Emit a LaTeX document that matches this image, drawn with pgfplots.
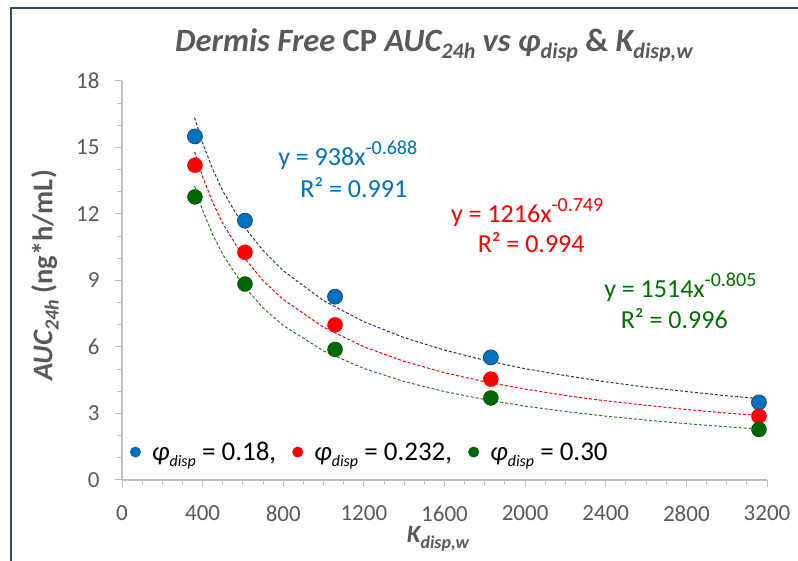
\documentclass[border=0pt]{standalone}
\usepackage{fontspec}
\setmainfont{Carlito}
\usepackage{pgfplots}
\pgfplotsset{compat=1.18}
\definecolor{cblue}{RGB}{0,112,192}
\definecolor{cblueedge}{RGB}{31,78,121}
\definecolor{cnavy}{RGB}{31,56,100}
\definecolor{cred}{RGB}{255,0,0}
\definecolor{cgreen}{RGB}{0,102,0}
\definecolor{cgreentxt}{RGB}{0,112,0}
\definecolor{ctxt}{RGB}{89,89,89}
\definecolor{caxis}{RGB}{191,191,191}
\definecolor{cframe}{RGB}{47,72,110}
\newcommand{\sub}[2]{\raisebox{-0.22em}{\fontsize{#1}{#1}\selectfont #2}}
\newcommand{\sups}[2]{\raisebox{0.42em}{\fontsize{#1}{#1}\selectfont #2}}
\begin{document}
\begin{tikzpicture}
\path[use as bounding box] (0,0) rectangle (798pt,561pt);
\draw[cframe, line width=1.3pt] (11pt,0) -- (11pt,553pt) -- (798pt,553pt);
\begin{axis}[
  at={(122pt,81pt)}, anchor=south west,
  width=645pt, height=399pt, scale only axis,
  xmin=0, xmax=3200, ymin=0, ymax=18,
  xtick={0,400,...,3200}, ytick={0,3,...,18},
  minor x tick num=3, minor y tick num=2,
  axis x line*=bottom, axis y line*=left,
  axis line style={caxis, line width=1.2pt},
  every tick/.style={caxis, line width=1pt},
  tick align=outside,
  major tick length=7pt, minor tick length=5pt,
  ticklabel style={font=\fontsize{23}{27}\selectfont, color=ctxt},
  xticklabel style={yshift=-15pt},
  yticklabel style={xshift=-12pt},
  /pgf/number format/assume math mode=true,
  /pgf/number format/1000 sep={},
  clip=false,
  legend columns=3,
  legend style={draw=none, fill=none, at={(0.012,0.07)}, anchor=west,
    font=\fontsize{27}{30}\selectfont, inner sep=0pt,
    /tikz/every even column/.append style={column sep=14pt}},
  legend cell align=left,
]
% trendlines (power fits as drawn in the reference)
\addplot[cnavy, line width=1pt, dash pattern=on 3pt off 2pt, forget plot] coordinates {
(360,16.35)(400,15.20)(450,14.02)(500,13.04)(600,11.50)(700,10.35)(800,9.44)(1000,8.09)(1200,7.14)(1400,6.42)(1600,5.86)(1800,5.40)(2000,5.02)(2200,4.71)(2400,4.43)(2600,4.19)(2800,3.99)(3000,3.80)(3160,3.67)};
\addplot[cred, line width=1pt, dash pattern=on 3pt off 2pt, forget plot] coordinates {
(360,14.80)(400,13.68)(450,12.52)(500,11.57)(600,10.10)(700,8.99)(800,8.14)(1000,6.89)(1200,6.01)(1400,5.35)(1600,4.84)(1800,4.43)(2000,4.10)(2200,3.81)(2400,3.57)(2600,3.37)(2800,3.18)(3000,3.02)(3160,2.91)};
\addplot[cgreen!85!white, line width=1pt, dash pattern=on 3pt off 2pt, forget plot] coordinates {
(360,13.25)(400,12.17)(450,11.07)(500,10.17)(600,8.79)(700,7.76)(800,6.97)(1000,5.82)(1200,5.03)(1400,4.44)(1600,3.99)(1800,3.63)(2000,3.33)(2200,3.09)(2400,2.88)(2600,2.70)(2800,2.54)(3000,2.40)(3160,2.30)};
% data points
\addplot[only marks, mark=*, mark size=7.5pt, mark options={fill=cblue, draw=cblueedge, line width=0.8pt},
  legend image code/.code={\path[draw=none,fill=none] (0pt,0pt) -- (20pt,0pt); \fill[cblue,draw=none] (5.5pt,0pt) circle (5.5pt);}] coordinates {
(362,15.5)(610,11.7)(1057,8.27)(1830,5.53)(3160,3.5)};
\addlegendentry{\textit{φ\sub{16}{disp}} = 0.18,}
\addplot[only marks, mark=*, mark size=7.5pt, mark options={fill=cred, draw=cred},
  legend image code/.code={\path[draw=none,fill=none] (0pt,0pt) -- (20pt,0pt); \fill[cred,draw=none] (5.5pt,0pt) circle (5.5pt);}] coordinates {
(362,14.2)(610,10.27)(1057,7.0)(1830,4.55)(3160,2.88)};
\addlegendentry{\textit{φ\sub{16}{disp}} = 0.232,}
\addplot[only marks, mark=*, mark size=7.5pt, mark options={fill=cgreen, draw=cgreen!80!black},
  legend image code/.code={\path[draw=none,fill=none] (0pt,0pt) -- (20pt,0pt); \fill[cgreen,draw=none] (5.5pt,0pt) circle (5.5pt);}] coordinates {
(362,12.77)(610,8.84)(1057,5.89)(1830,3.7)(3160,2.28)};
\addlegendentry{\textit{φ\sub{16}{disp}} = 0.30}
% fit equations
\node[cblue, font=\fontsize{26}{30}\selectfont] at (axis cs:1120,14.65) {y = 938x\sups{20}{-0.688}};
\node[cblue, font=\fontsize{26}{30}\selectfont] at (axis cs:1150,13.2) {R² = 0.991};
\node[cred, font=\fontsize{26}{30}\selectfont] at (axis cs:2010,12.05) {y = 1216x\sups{20}{-0.749}};
\node[cred, font=\fontsize{26}{30}\selectfont] at (axis cs:2030,10.7) {R² = 0.994};
\node[cgreentxt, font=\fontsize{26}{30}\selectfont] at (axis cs:2770,8.7) {y = 1514x\sups{20}{-0.805}};
\node[cgreentxt, font=\fontsize{26}{30}\selectfont] at (axis cs:2740,7.28) {R² = 0.996};
\end{axis}
% title and axis labels
\node[ctxt, font=\fontsize{32.5}{36}\selectfont\bfseries] at (434pt,516pt)
  {\textit{Dermis Free} CP \textit{AUC\sub{22}{24h} vs φ\sub{22}{disp}} \& \textit{K\sub{22}{disp,w}}};
\node[ctxt, font=\fontsize{25}{28}\selectfont\bfseries] at (438pt,22pt) {\textit{K\sub{18}{disp,w}}};
\node[ctxt, font=\fontsize{28.5}{32}\selectfont\bfseries, rotate=90] at (45pt,285.5pt) {\textit{AUC\sub{20}{24h}} (ng*h/mL)};
\end{tikzpicture}
\end{document}
